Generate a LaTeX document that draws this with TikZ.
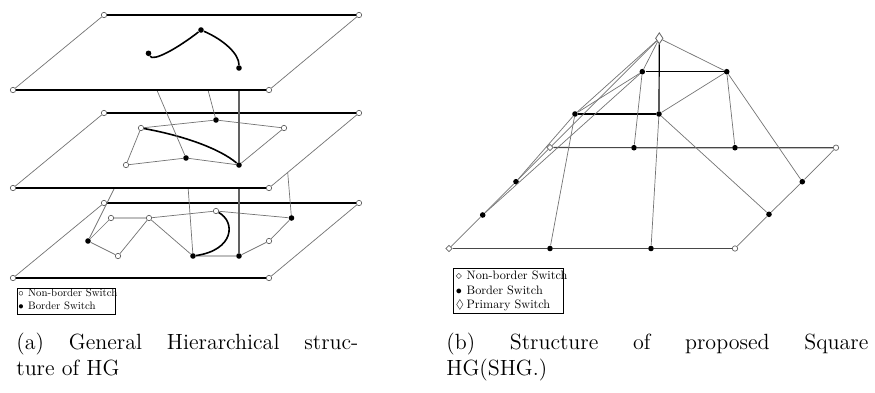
\documentclass[tikz,border=0pt]{standalone}
\usepackage{amssymb}
\usetikzlibrary{shapes.geometric}
\begin{document}
\begin{tikzpicture}[x=0.5pt,y=-0.5pt,
  side/.style={draw=black!55, line width=0.35pt},
  rim/.style={draw=black, line width=0.6pt},
  link/.style={draw=black!55, line width=0.35pt},
  hard/.style={draw=black, line width=0.8pt},
  pale/.style={draw=black!25, line width=0.9pt},
  riser/.style={draw=black!62, line width=0.8pt},
  level/.style={draw=black!72, line width=0.55pt},
  nb/.style={circle, draw=black!60, fill=white, line width=0.35pt, inner sep=0pt, minimum size=2.7pt},
  bd/.style={circle, fill=black, inner sep=0pt, minimum size=2.8pt},
  nbd/.style={diamond, draw=black!60, fill=white, line width=0.35pt, inner sep=0pt, minimum size=3.3pt},
  prim/.style={diamond, draw=black!60, fill=white, line width=0.4pt, inner sep=0pt, minimum width=3.8pt, minimum height=5.6pt},
  legbox/.style={draw=black, line width=0.5pt, inner sep=0pt, anchor=north west},
  legtext/.style={anchor=base west, inner sep=0pt, font=\fontsize{10}{12}\selectfont},
  captext/.style={anchor=base west, inner sep=0pt, font=\fontsize{11}{13.5}\selectfont},
]
\useasboundingbox (0,0) rectangle (875,392);

% ---------------- (a) general hierarchical structure ----------------
% points of the middle layer that the lower risers start from
\coordinate (hp3) at (284,128);
\coordinate (hp4) at (239,165);
\coordinate (hp5) at (186,158);
\coordinate (hp6) at (126,165);
% points under the top layer that the upper risers start from
\coordinate (ua) at (141,53);
\coordinate (ub) at (192,30);
\coordinate (uc) at (239,68);

% bottom layer
\path[fill=white] (104,203) -- (359,203) -- (269,278) -- (13,278) -- cycle;
\node[nb] (b1) at (104,203) {};
\node[nb] (b2) at (359,203) {};
\node[nb] (b3) at (269,278) {};
\node[nb] (b4) at (13,278) {};
\draw[rim] (b1) -- (b2);
\draw[rim] (b4) -- (b3);
\draw[side] (b1) -- (b4);
\draw[side] (b2) -- (b3);

\node[nb] (q1) at (111,218) {};
\node[nb] (q2) at (149,218) {};
\node[nb] (q3) at (216,211) {};
\node[bd] (q4) at (291.5,218) {};
\node[nb] (q5) at (269,241) {};
\node[bd] (q6) at (239,256) {};
\node[bd] (q7) at (193,256) {};
\node[nb] (q8) at (118,256) {};
\node[bd] (q9) at (88,241) {};
\draw[pale] (q1) -- (q2);
\draw[link] (q2) -- (q3) -- (q4) -- (q5) -- (q6);
\draw[pale] (q6) -- (q7);
\draw[link] (q7) -- (q2) -- (q8) -- (q9) -- (q1);
\draw[hard] (q3) .. controls (236,222) and (234,250) .. (q7);

% risers between the middle and the bottom layer
\draw[link] (hp6) -- (q9);
\draw[link] (hp5) -- (q7);
\draw[link] (hp3) -- (q4);
\draw[riser] (hp4) -- (q6);

% middle layer
\path[fill=white] (104,113) -- (359,113) -- (269,188) -- (13,188) -- cycle;
\node[nb] (m1) at (104,113) {};
\node[nb] (m2) at (359,113) {};
\node[nb] (m3) at (269,188) {};
\node[nb] (m4) at (13,188) {};
\draw[rim] (m1) -- (m2);
\draw[rim] (m4) -- (m3);
\draw[side] (m1) -- (m4);
\draw[side] (m2) -- (m3);

\node[nb] (p1) at (141,128) {};
\node[bd] (p2) at (216,120) {};
\node[nb] (p3) at (hp3) {};
\node[bd] (p4) at (hp4) {};
\node[bd] (p5) at (hp5) {};
\node[nb] (p6) at (hp6) {};
\draw[link] (p1) -- (p2) -- (p3) -- (p4) -- (p5) -- (p6) -- (p1);
\draw[hard] (p1) .. controls (185,136) and (220,149) .. (p4);

% risers between the top and the middle layer
\draw[link] (ua) -- (p5);
\draw[link] (ub) -- (p2);
\draw[riser] (uc) -- (p4);

% top layer
\path[fill=white] (104,15) -- (359,15) -- (269,90) -- (13,90) -- cycle;
\node[nb] (t1) at (104,15) {};
\node[nb] (t2) at (359,15) {};
\node[nb] (t3) at (269,90) {};
\node[nb] (t4) at (13,90) {};
\draw[rim] (t1) -- (t2);
\draw[rim] (t4) -- (t3);
\draw[side] (t1) -- (t4);
\draw[side] (t2) -- (t3);

\node[bd] (a1) at (148.5,53.3) {};
\node[bd] (a2) at (201,30) {};
\node[bd] (a3) at (uc) {};
\draw[hard] (a1) .. controls (153,62) and (178,48) .. (a2);
\draw[hard] (a2) .. controls (224,40) and (239,54) .. (a3);

% legend (a)
\node[legbox, minimum width=49.2pt, minimum height=13pt] (lega) at (16.7,288.3) {};
\node[legtext] (lega1) at (18,296.7) {\scalebox{0.54}{\makebox[9pt][l]{$\circ$}Non-border Switch}};
\node[legtext] (lega2) at (18,309.3) {\scalebox{0.54}{\makebox[9pt][l]{$\bullet$}Border Switch}};

% caption (a)
\node[captext] (capa1) at (16,349) {\makebox[171pt][s]{(a) General Hierarchical struc-}};
\node[captext] (capa2) at (16,375) {ture of HG};

% ---------------- (b) square HG ----------------
\node[prim] (top) at (659.3,38.3) {};
\node[bd] (r1) at (642.3,71.7) {};
\node[bd] (r2) at (726.7,71.7) {};
\node[bd] (s1) at (575,114) {};
\node[bd] (s2) at (659,114) {};

\node[nbd] (l1) at (550,147.5) {};
\node[bd] (f1) at (634,147.7) {};
\node[bd] (f2) at (735,147.7) {};
\node[nb] (rc) at (836,147.7) {};
\node[bd] (ra) at (802.3,181.7) {};
\node[bd] (rb) at (769,214.3) {};
\node[nb] (br) at (735,248.5) {};
\node[bd] (g2) at (651,248.5) {};
\node[bd] (g1) at (550,248.5) {};
\node[nbd] (bl) at (449,248.5) {};
\node[bd] (l2) at (516,181.7) {};
\node[bd] (l3) at (482.7,215) {};

% base plane
\draw[level] (l1) -- (f1) -- (f2) -- (rc);
\draw[level] (bl) -- (g1) -- (g2) -- (br);
\draw[link] (rc) -- (ra) -- (rb) -- (br);
\draw[link] (l1) -- (l2) -- (l3) -- (bl);

% upper levels
\draw[rim] (top) -- (s2);
\draw[rim] (r1) -- (r2);
\draw[rim] (s1) -- (s2);
\draw[link] (top) -- (r1);
\draw[link] (top) -- (r2);
\draw[link] (top) -- (s1);
\draw[link] (top) -- (l1);
\draw[link] (r1) -- (s1);
\draw[link] (r2) -- (s2);

% links down to the border switches of the base plane
\draw[link] (r1) -- (f1);
\draw[link] (r1) -- (l3);
\draw[link] (r2) -- (f2);
\draw[link] (r2) -- (ra);
\draw[link] (s1) -- (l2);
\draw[link] (s1) -- (g1);
\draw[link] (s2) -- (g2);
\draw[link] (s2) -- (rb);

% legend (b)
\node[legbox, minimum width=55pt, minimum height=22.5pt] (legb) at (453.3,268.3) {};
\node[legtext] (legb1) at (455.5,279.3) {\scalebox{0.61}{\makebox[8.8pt][l]{$\diamond$}Non-border Switch}};
\node[legtext] (legb2) at (455.5,294) {\scalebox{0.61}{\makebox[8.8pt][l]{$\bullet$}Border Switch}};
\node[legtext] (legb3) at (455.5,308.3) {\scalebox{0.61}{\makebox[8.8pt][l]{$\Diamond$}Primary Switch}};

% caption (b)
\node[captext] (capb1) at (446,349) {\makebox[211pt][s]{(b) Structure of proposed Square}};
\node[captext] (capb2) at (446,375) {HG(SHG.)};
\end{tikzpicture}
\end{document}
